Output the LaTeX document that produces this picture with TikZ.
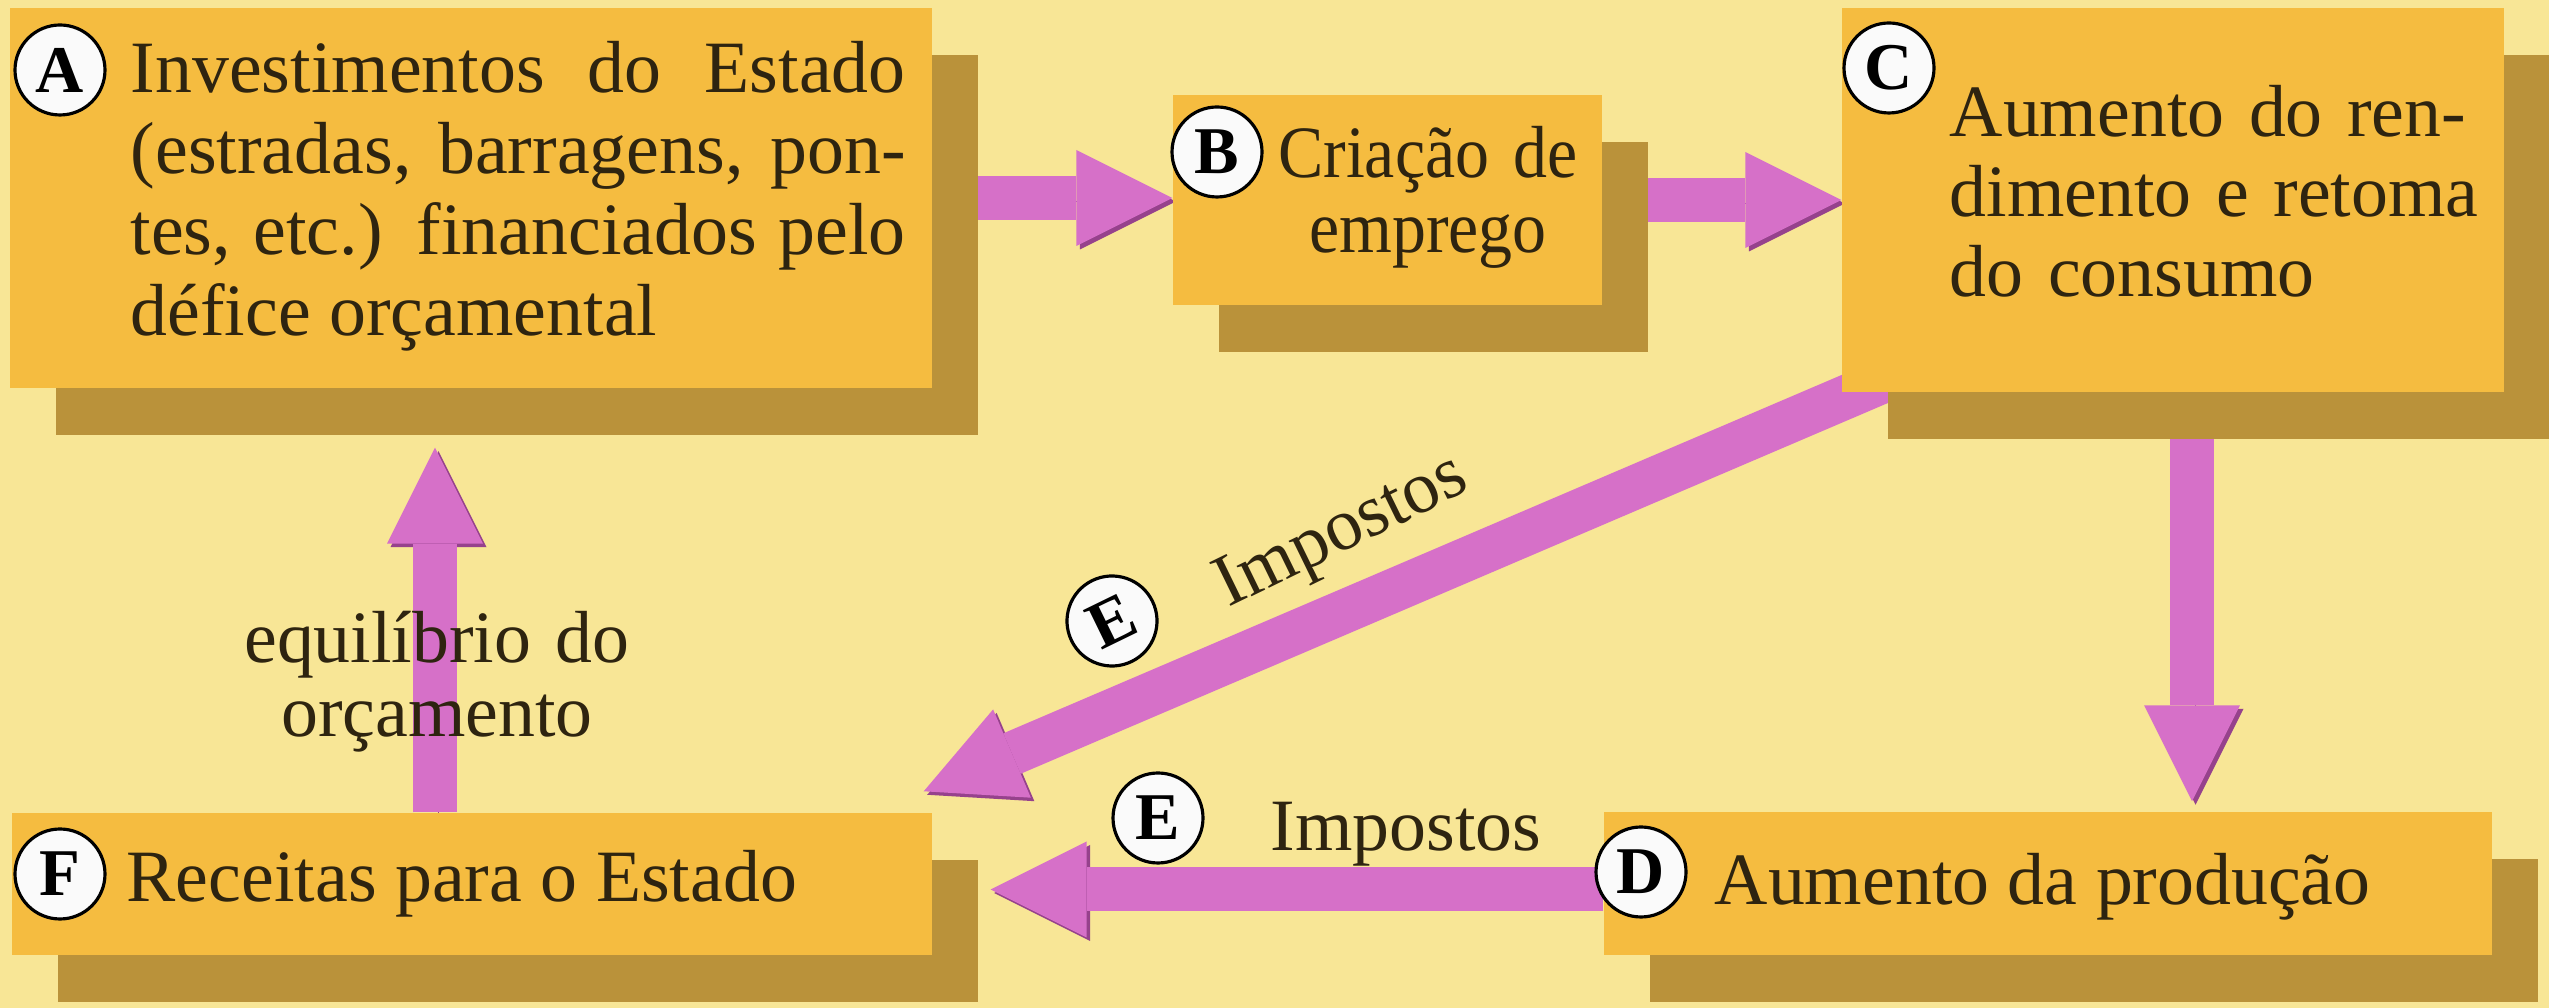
\documentclass[tikz,border=0pt]{standalone}
\usepackage{fontspec}
\setmainfont{Liberation Serif}
\usetikzlibrary{arrows.meta,shadows,backgrounds}

\definecolor{paper}{RGB}{248,230,150}
\definecolor{boxfill}{RGB}{245,188,64}
\definecolor{boxshade}{RGB}{186,146,58}
\definecolor{pinkarrow}{RGB}{214,112,200}
\definecolor{pinkedge}{RGB}{150,66,140}
\definecolor{ink}{RGB}{46,36,16}

\tikzstyle{box} = [rectangle, fill=boxfill, inner sep=0pt, drop shadow={shadow xshift=0.46cm, shadow yshift=-0.47cm, fill=boxshade, opacity=1}]
\tikzstyle{letter} = [circle, draw=black, line width=0.9pt, fill=white!96!gray, minimum size=0.9cm, inner sep=0pt, text=black, font=\fontsize{19pt}{19pt}\selectfont\bfseries]
\tikzstyle{words} = [inner sep=0pt, text=ink, font=\fontsize{21pt}{23pt}\selectfont]
\tikzstyle{fatarrow} = [draw=pinkarrow, line width=0.44cm, -{Triangle[width=0.96cm,length=0.96cm,line width=0pt]}, preaction={draw=pinkedge, transform canvas={xshift=0.035cm,yshift=-0.035cm}}]

\begin{document}
\begin{tikzpicture}
      \useasboundingbox (0,0) rectangle (25.49,10.08);
      \node[box, minimum width=9.22cm, minimum height=3.80cm] (a) at (4.71,8.10) {};
      \node[box, minimum width=4.29cm, minimum height=2.10cm] (b) at (13.875,8.08) {};
      \node[box, minimum width=6.62cm, minimum height=3.84cm] (c) at (21.73,8.08) {};
      \node[box, minimum width=8.88cm, minimum height=1.43cm] (d) at (20.48,1.245) {};
      \node[box, minimum width=9.20cm, minimum height=1.42cm] (f) at (4.72,1.24) {};
      \begin{scope}[on background layer]
      \fill[paper] (0,0) rectangle (25.49,10.08);
      \draw[fatarrow] (a.east) -- (a.east -| b.west);
      \draw[fatarrow] (b.east) -- (b.east -| c.west);
      \draw[fatarrow] ([xshift=0.19cm]c.south) -- ([xshift=0.19cm,yshift=0.1cm]c.south |- d.north);
      \draw[fatarrow] ([shift={(0.78,0.27)}]c.south west) -- ([shift={(-0.09,0.21)}]f.north east);
      \draw[fatarrow] ([yshift=-0.06cm]d.west) -- ([xshift=0.58cm,yshift=-0.06cm]f.east |- d.west);
      \draw[fatarrow] ([xshift=-0.37cm]f.north) -- ([xshift=-0.37cm,yshift=-0.59cm]f.north |- a.south);
      \end{scope}
      \node[words, text width=7.75cm, align=justify, anchor=base west] (ta) at (1.30,9.15) {Investimentos do Estado\linebreak (estradas, barragens, pon-\linebreak tes, etc.) financiados pelo\linebreak défice orçamental};
      \node[words, text width=3.8cm, align=center, anchor=base, font=\fontsize{21pt}{21.3pt}\selectfont\addfontfeature{FakeStretch=0.92}] (tb) at (14.28,8.30) {Criação de\\emprego};
      \node[words, text width=5.5cm, align=left, anchor=base west, font=\fontsize{21pt}{22.7pt}\selectfont] (tc) at (19.49,8.71) {Aumento do ren-\\dimento e retoma\\do consumo};
      \node[words, anchor=base west] (td) at (17.14,1.03) {Aumento da produção};
      \node[words, anchor=base west] (tf) at (1.26,1.06) {Receitas para o Estado};
      \node[words, text width=4.5cm, align=center, anchor=base, font=\fontsize{21pt}{21pt}\selectfont] (eq) at (4.37,3.45) {equilíbrio do\\orçamento};
      \node[words, anchor=base] (imp1) at (14.06,1.57) {Impostos};
      \node[words, rotate=26] (imp2) at (13.43,4.74) {Impostos};
      \node[letter] (la) at (0.60,9.38) {A};
      \node[letter] (lb) at (12.17,8.56) {B};
      \node[letter] (lc) at (18.89,9.40) {C};
      \node[letter] (ld) at (16.41,1.36) {D};
      \node[letter] (lf) at (0.60,1.34) {F};
      \node[letter, rotate=26] (le1) at (11.12,3.87) {E};
      \node[letter] (le2) at (11.58,1.90) {E};
\end{tikzpicture}
\end{document}
